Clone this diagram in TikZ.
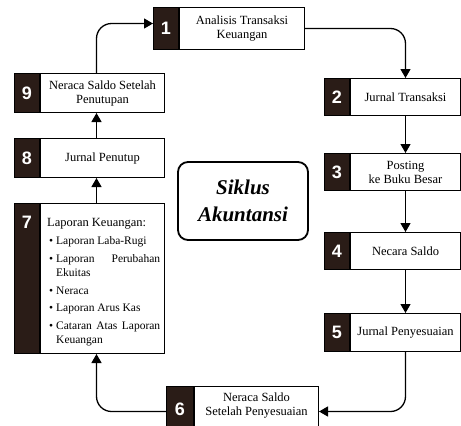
\documentclass[tikz,border=0pt]{standalone}
\usepackage{fontspec}
\setmainfont{Liberation Serif}
\newfontfamily\numfont{Liberation Sans}
\usetikzlibrary{arrows.meta,calc}
\definecolor{darkbox}{HTML}{2A1C17}
\begin{document}
\begin{tikzpicture}[x=1pt,y=1pt,
  numbox/.style={draw=black, line width=1pt, fill=darkbox, text=white,
    font=\numfont\bfseries\fontsize{18}{18}\selectfont,
    minimum width=25pt, inner sep=0pt, anchor=north west},
  numlabel/.style={text=white, font=\numfont\bfseries\fontsize{18}{18}\selectfont, inner sep=0pt},
  textbox/.style={draw=black, line width=1pt, fill=white, anchor=north west,
    inner sep=2pt, align=center, font=\fontsize{12.5}{14}\selectfont},
  flow/.style={line width=1.3pt, rounded corners=15pt, -{Triangle[width=10pt,length=9pt]}},
  titlebox/.style={draw=black, line width=1.8pt, rounded corners=10pt,
    minimum width=130pt, minimum height=78pt},
]
\useasboundingbox (0,0) rectangle (461,-426);
\clip (0,0) rectangle (461,-426);

% step 1
\node[numbox, minimum height=42pt] (n1) at (153,-7) {1};
\node[textbox, minimum width=125pt, minimum height=42pt] (t1) at (n1.north east) {Analisis Transaksi\\Keuangan};
% step 2
\node[numbox, minimum height=37pt] (n2) at (324,-78) {2};
\node[textbox, minimum width=110pt, minimum height=37pt] (t2) at (n2.north east) {Jurnal Transaksi};
% step 3
\node[numbox, minimum height=37pt] (n3) at (324,-153) {3};
\node[textbox, minimum width=110pt, minimum height=37pt] (t3) at (n3.north east) {Posting\\ke Buku Besar};
% step 4
\node[numbox, minimum height=37pt] (n4) at (324,-232) {4};
\node[textbox, minimum width=110pt, minimum height=37pt] (t4) at (n4.north east) {Necara Saldo};
% step 5
\node[numbox, minimum height=38pt] (n5) at (324,-313) {5};
\node[textbox, minimum width=110pt, minimum height=38pt] (t5) at (n5.north east) {Jurnal Penyesuaian};
% step 6
\node[numbox, minimum height=46pt, minimum width=27pt] (n6) at (166,-386) {6};
\node[textbox, minimum width=124pt, minimum height=46pt, text depth=10pt] (t6) at (n6.north east) {Neraca Saldo\\Setelah Penyesuaian};
% step 7
\node[numbox, minimum height=150pt] (n7) at (14,-203) {};
\node[numlabel] at ($(n7.north)+(0,-19)$) {7};
\node[textbox, minimum width=124pt, minimum height=150pt] (t7) at (n7.north east) {};
\node[anchor=north west, text width=113pt, inner sep=0pt, align=justify,
  font=\fontsize{11.5}{14.5}\selectfont] (c7) at ($(t7.north west)+(7,-15)$) {%
  \hyphenpenalty=10000\exhyphenpenalty=10000%
  {\fontsize{12.5}{14.5}\selectfont Laporan Keuangan:}\par
  \begin{list}{\textbullet}{\setlength{\leftmargin}{9pt}\setlength{\labelwidth}{6pt}%
      \setlength{\labelsep}{3pt}\setlength{\itemsep}{3pt}\setlength{\parsep}{0pt}%
      \setlength{\topsep}{4pt}\setlength{\partopsep}{0pt}}
    \item Laporan Laba-Rugi
    \item Laporan Perubahan Ekuitas
    \item Neraca
    \item Laporan Arus Kas
    \item Cataran Atas Laporan Keuangan
  \end{list}};
% step 8
\node[numbox, minimum height=39pt] (n8) at (14,-138) {8};
\node[textbox, minimum width=124pt, minimum height=39pt] (t8) at (n8.north east) {Jurnal Penutup};
% step 9
\node[numbox, minimum height=39pt] (n9) at (14,-73) {9};
\node[textbox, minimum width=124pt, minimum height=39pt] (t9) at (n9.north east) {Neraca Saldo Setelah\\Penutupan};

% title
\node[titlebox, font=\bfseries\itshape\fontsize{21}{27}\selectfont, align=center] (title) at (243,-201) {Siklus\\Akuntansi};

% connectors
\draw[flow] ([xshift=-6pt]t9.north) |- ([yshift=5pt]n1.west);
\draw[flow] (t1.east) -| (t2.north);
\draw[flow] (t2.south) -- (t3.north);
\draw[flow] (t3.south) -- (t4.north);
\draw[flow] (t4.south) -- (t5.north);
\draw[flow] (t5.south) |- ([yshift=-2pt]t6.east);
\draw[flow] ([yshift=-2pt]n6.west) -| ([xshift=-6pt]t7.south);
\draw[flow] ([xshift=-6pt]t7.north) -- ([xshift=-6pt]t8.south);
\draw[flow] ([xshift=-6pt]t8.north) -- ([xshift=-6pt]t9.south);
\end{tikzpicture}
\end{document}
